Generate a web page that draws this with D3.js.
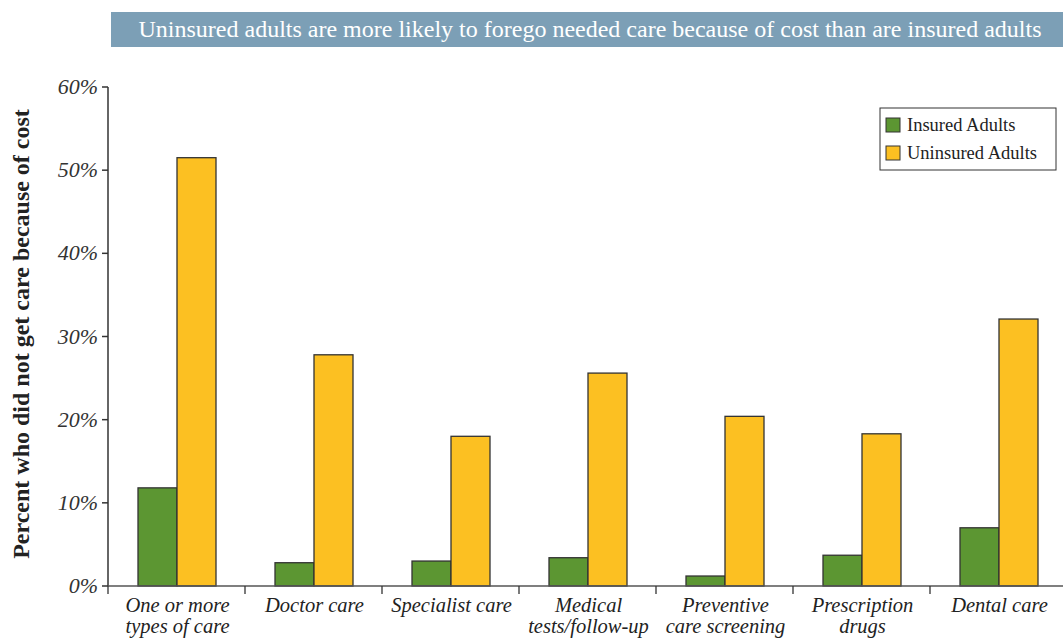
<!DOCTYPE html>
<html lang="en">
<head>
  <meta charset="UTF-8" />
  <title>Forego care because of cost</title>
  <script src="https://d3js.org/d3.v7.min.js"></script>
  <style>
    body { margin: 0; background: #fff; }
    svg text { font-family: "Liberation Serif", "Times New Roman", "DejaVu Serif", serif; }
    .tick-label { font-style: italic; fill: #333; font-size: 22px; }
    .cat-label { font-style: italic; fill: #222; font-size: 20.5px; }
  </style>
</head>
<body>
  <svg width="1063" height="641"></svg>
  <script>
    const categories = [
      ["One or more", "types of care"],
      ["Doctor care"],
      ["Specialist care"],
      ["Medical", "tests/follow-up"],
      ["Preventive", "care screening"],
      ["Prescription", "drugs"],
      ["Dental care"]
    ];
    const insured = [11.8, 2.8, 3.0, 3.4, 1.2, 3.7, 7.0];
    const uninsured = [51.5, 27.8, 18.0, 25.6, 20.4, 18.3, 32.1];
    const seriesNames = ["Insured Adults", "Uninsured Adults"];
    const colors = ["#5c9632", "#fcc022"];
    const yTicks = [0, 10, 20, 30, 40, 50, 60];

    const svg = d3.select("svg");
    const plotLeft = 108, plotRight = 1067, plotTop = 87, plotBottom = 586;

    // title banner
    svg.append("rect")
      .attr("x", 111).attr("y", 12).attr("width", 952).attr("height", 35)
      .attr("fill", "#7c9fb6");
    svg.append("text")
      .attr("x", 590).attr("y", 37)
      .attr("text-anchor", "middle")
      .attr("fill", "#fff")
      .style("font-size", "24px")
      .text("Uninsured adults are more likely to forego needed care because of cost than are insured adults");

    const x = d3.scaleBand().domain(d3.range(categories.length)).range([plotLeft, plotRight]);
    const y = d3.scaleLinear().domain([0, 60]).range([plotBottom, plotTop]);
    const barW = 39;

    // bars
    const g = svg.append("g");
    [insured, uninsured].forEach((vals, s) => {
      g.selectAll(null)
        .data(vals)
        .enter()
        .append("rect")
        .attr("x", (d, i) => x(i) + 30 + s * barW)
        .attr("y", d => y(d))
        .attr("width", barW)
        .attr("height", d => plotBottom - y(d))
        .attr("fill", colors[s])
        .attr("stroke", "#333")
        .attr("stroke-width", 1.3);
    });

    // y axis
    svg.append("line")
      .attr("x1", plotLeft).attr("x2", plotLeft).attr("y1", plotTop).attr("y2", plotBottom)
      .attr("stroke", "#333").attr("stroke-width", 1.5);
    yTicks.forEach(t => {
      svg.append("line")
        .attr("x1", plotLeft - 6).attr("x2", plotLeft).attr("y1", y(t)).attr("y2", y(t))
        .attr("stroke", "#333").attr("stroke-width", 1.5);
      svg.append("text")
        .attr("class", "tick-label")
        .attr("x", plotLeft - 10).attr("y", y(t) + 7)
        .attr("text-anchor", "end")
        .text(t + "%");
    });

    // x axis
    svg.append("line")
      .attr("x1", plotLeft).attr("x2", 1063).attr("y1", plotBottom).attr("y2", plotBottom)
      .attr("stroke", "#555").attr("stroke-width", 1.5);
    d3.range(categories.length + 1).forEach(i => {
      const xx = i < categories.length ? x(i) : plotRight;
      svg.append("line")
        .attr("x1", xx).attr("x2", xx).attr("y1", plotBottom).attr("y2", plotBottom + 8)
        .attr("stroke", "#333").attr("stroke-width", 1.3);
    });
    categories.forEach((lines, i) => {
      const cx = x(i) + x.bandwidth() / 2 + 1;
      const t = svg.append("text")
        .attr("class", "cat-label")
        .attr("text-anchor", "middle")
        .attr("x", cx)
        .attr("y", 612);
      lines.forEach((l, k) => {
        t.append("tspan").attr("x", cx).attr("dy", k ? 21 : 0).text(l);
      });
    });

    // y title
    svg.append("text")
      .attr("transform", "translate(29,334) rotate(-90)")
      .attr("text-anchor", "middle")
      .attr("font-weight", "bold")
      .attr("fill", "#222")
      .style("font-size", "24px")
      .text("Percent who did not get care because of cost");

    // legend
    const lg = svg.append("g").attr("transform", "translate(880,108)");
    lg.append("rect").attr("width", 176).attr("height", 62)
      .attr("fill", "#fff").attr("stroke", "#333").attr("stroke-width", 1);
    seriesNames.forEach((n, i) => {
      lg.append("rect")
        .attr("x", 6).attr("y", 10 + i * 28).attr("width", 14).attr("height", 14)
        .attr("fill", colors[i]).attr("stroke", "#333");
      lg.append("text")
        .attr("x", 27).attr("y", 23 + i * 28)
        .attr("fill", "#222")
        .style("font-size", "18.5px")
        .text(n);
    });
  </script>
</body>
</html>
